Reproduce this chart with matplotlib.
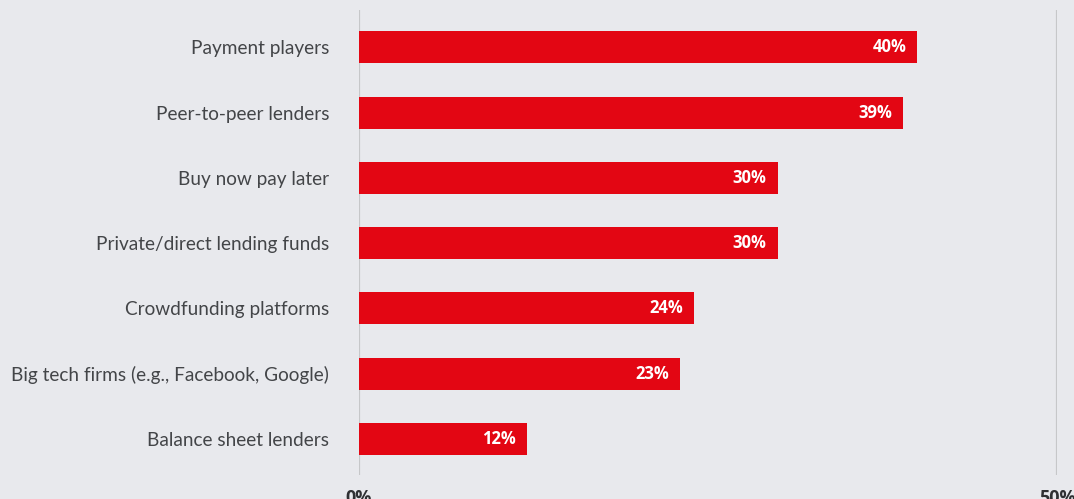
import matplotlib.pyplot as plt

categories = [
    'Payment players',
    'Peer-to-peer lenders',
    'Buy now pay later',
    'Private/direct lending funds',
    'Crowdfunding platforms',
    'Big tech firms (e.g., Facebook, Google)',
    'Balance sheet lenders',
]
shares = [40, 39, 30, 30, 24, 23, 12]
x_ticks = [0, 50]
x_tick_labels = ['0%', '50%']

BG = '#e8e9ed'
RED = '#e30613'


def main():
    fig = plt.figure(figsize=(10.74, 4.99), dpi=100, facecolor=BG)
    ax = fig.add_axes([359 / 1074, 24 / 499, 698 / 1074, 465 / 499])
    ax.set_facecolor(BG)

    ypos = list(range(len(categories)))
    ax.barh(ypos, shares, height=0.49, color=RED, zorder=2)

    # value labels sit inside the right end of each bar
    for y, v in zip(ypos, shares):
        ax.text(v - 0.8, y, f'{v}%', ha='right', va='center',
                color='white', fontsize=12, fontweight='bold',
                family='Open Sans', zorder=3)

    ax.set_xlim(0, 50)
    ax.set_ylim(6.55, -0.57)

    for x in x_ticks:
        ax.axvline(x, color='#c6c7c9', lw=1.6, zorder=1)

    ax.set_yticks(ypos)
    ax.set_yticklabels(categories, fontsize=13.7, color='#434548',
                       family='Lato')
    ax.set_xticks(x_ticks)
    ax.set_xticklabels(x_tick_labels, fontsize=13, fontweight='bold',
                       color='#2f3033', family='Open Sans')
    ax.tick_params(axis='y', length=0, pad=21.5)
    ax.tick_params(axis='x', length=0, pad=10)
    for s in ax.spines.values():
        s.set_visible(False)

    fig.savefig('out.png', dpi=100, facecolor=BG)


if __name__ == '__main__':
    main()
